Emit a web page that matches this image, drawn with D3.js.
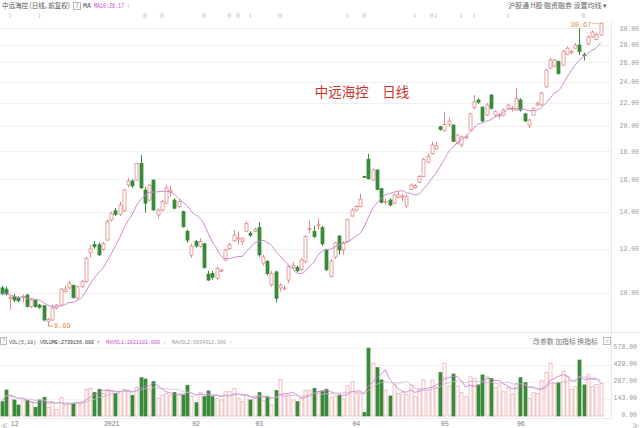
<!DOCTYPE html>
<html><head><meta charset="utf-8">
<script src="https://cdn.jsdelivr.net/npm/d3@7/dist/d3.min.js"></script>
<style>
html,body{margin:0;padding:0;background:#fff;}
svg{display:block;font-family:"Noto Sans CJK SC","Noto Sans",sans-serif;}
</style></head>
<body>
<svg id="c" width="640" height="428"></svg>
<script>
// ---------------- data ----------------
const open  = [10.20,10.15,9.75,9.85,9.78,9.82,9.90,9.44,9.70,9.50,9.47,8.88,8.93,9.38,9.50,10.05,10.20,10.30,9.78,10.25,
10.47,11.80,12.22,12.20,11.98,12.44,13.52,14.05,13.85,14.05,15.63,15.90,15.96,17.10,15.31,14.69,15.96,13.80,14.09,14.50,
15.20,14.69,14.30,14.00,12.90,11.69,12.37,12.12,12.25,10.80,10.83,10.62,10.95,11.45,12.00,12.40,12.50,12.37,12.90,12.80,
12.90,13.10,11.30,11.38,10.33,10.90,10.20,10.18,10.54,11.10,11.10,11.00,11.37,13.00,12.90,13.20,13.10,11.94,10.70,11.60,
12.65,11.94,12.37,13.75,14.09,14.30,16.20,17.40,15.96,16.64,15.40,14.55,14.69,14.50,14.85,14.90,14.33,15.35,15.45,15.80,
16.20,17.20,17.80,18.15,19.90,19.60,20.10,20.05,18.60,18.46,19.05,19.64,21.55,22.25,21.60,20.90,22.71,20.90,20.85,20.90,
21.50,21.45,21.34,22.25,21.00,20.05,20.90,21.80,21.80,23.50,25.40,25.60,26.10,25.72,26.90,27.15,27.60,27.95,26.85,28.10,
28.90,28.60,29.13];
const high  = [10.30,10.25,9.90,9.95,9.85,9.92,9.95,9.75,9.74,9.55,9.50,9.00,9.50,9.55,10.20,10.30,10.50,10.35,10.30,10.55,
11.60,12.20,12.40,12.30,12.35,13.55,14.00,14.20,14.60,15.40,16.10,16.00,17.15,17.70,15.50,15.70,16.00,14.20,14.70,15.65,
15.60,14.80,14.75,14.05,13.00,12.25,12.45,12.55,12.30,10.95,10.95,11.15,11.05,12.00,12.30,12.97,12.90,12.60,13.45,12.90,
13.10,13.40,11.70,11.45,10.95,10.95,10.40,10.30,11.20,11.35,11.20,11.55,12.70,13.50,13.20,13.60,13.20,12.00,11.50,12.35,
12.70,12.40,13.60,14.20,14.40,15.10,16.25,17.80,16.75,16.70,15.45,14.75,14.80,15.10,15.20,15.10,15.00,15.75,15.70,16.30,
17.50,17.80,18.70,18.70,20.00,21.20,20.70,20.10,19.35,19.20,19.30,21.10,22.71,22.40,21.65,22.00,22.80,21.30,21.10,21.50,
21.90,21.70,23.40,22.40,21.10,20.60,21.60,22.10,23.00,25.30,26.50,26.40,26.20,27.40,27.80,27.40,28.20,30.00,27.10,29.10,
29.70,29.40,30.67];
const low   = [9.90,9.88,9.31,9.62,9.60,9.60,9.40,9.38,9.40,9.36,8.88,8.69,8.90,9.33,9.45,10.00,10.15,9.75,9.72,10.20,
10.42,11.55,12.00,11.65,11.90,12.40,13.45,13.75,13.75,14.00,15.50,15.45,15.90,15.40,13.95,14.60,14.05,13.60,14.00,14.45,
14.90,14.15,14.20,13.10,12.30,11.55,12.05,12.05,11.05,10.50,10.55,10.55,10.90,11.40,11.95,12.35,12.20,12.20,12.85,12.60,
12.85,11.60,11.20,10.75,10.25,9.60,10.05,10.10,10.40,11.00,10.90,10.95,11.30,12.80,12.55,13.00,12.15,10.95,10.65,11.50,
11.70,11.70,12.30,13.70,14.00,14.25,16.10,16.00,15.90,15.30,14.50,14.40,14.30,14.45,14.80,14.60,14.20,15.30,15.40,15.75,
16.15,17.10,17.75,18.10,19.60,19.50,19.90,18.70,18.50,18.30,18.90,19.60,21.40,21.90,20.30,20.80,21.40,20.70,20.60,20.80,
21.40,21.20,21.30,21.20,20.30,19.80,20.85,21.70,21.75,23.40,25.30,25.50,24.70,25.60,26.80,26.90,27.50,26.80,26.20,27.90,
28.80,28.50,29.00];
const close = [9.95,9.95,9.80,9.70,9.67,9.85,9.45,9.70,9.44,9.41,8.93,8.95,9.38,9.50,10.15,10.15,10.40,9.80,10.25,10.47,
11.53,12.00,12.10,11.70,12.25,13.45,13.90,13.85,14.39,15.31,15.90,15.58,17.10,15.45,14.50,15.63,14.10,14.09,14.60,15.45,
15.30,14.20,14.60,13.15,12.44,12.14,12.14,12.37,11.10,10.54,10.66,11.07,10.98,11.94,12.22,12.70,12.55,12.50,13.33,12.70,
13.00,11.70,11.60,10.83,10.83,9.77,10.32,10.20,11.14,11.20,10.95,11.45,12.62,13.05,12.62,13.26,12.25,11.00,11.40,12.30,
11.94,12.30,13.55,14.09,14.30,14.75,16.15,16.05,16.64,15.35,14.55,14.60,14.39,15.00,15.00,14.93,14.90,15.63,15.60,16.20,
17.40,17.60,18.46,18.40,19.70,20.10,20.40,18.75,19.24,19.10,19.10,21.00,22.10,22.05,20.40,21.79,21.50,21.20,20.90,21.34,
21.79,21.50,22.40,21.34,20.40,20.47,21.50,21.95,22.90,25.20,26.26,26.26,24.85,27.20,27.60,27.20,27.95,27.20,26.80,28.90,
29.50,29.20,30.60];
// volume in 万手
const volume = [121,219,177,135,93,135,129,112,73,135,158,73,121,56,158,93,101,107,112,121,
225,233,197,225,191,225,214,191,205,225,219,174,242,323,312,219,290,149,177,191,
177,197,177,177,259,169,112,197,163,211,163,146,135,205,205,233,149,121,177,135,
163,197,129,163,93,214,309,163,177,135,121,149,214,219,233,205,205,225,158,169,
172,143,253,290,191,186,28,573,445,408,304,219,169,262,191,197,183,262,163,233,
304,214,304,242,366,445,253,354,253,197,163,332,318,262,346,332,315,242,262,205,
242,186,276,323,281,149,197,191,298,368,445,276,281,377,332,225,248,472,262,350,
248,267,273.9];
const priceTicks = [10,12,14,16,18,20,22,24,26,28,30];
const volTicks = [0,143,287,429,578];
const monthTickIdx = [3,26,46,61,84,105,123];
const monthTickLabels = ["12","2021","02","03","04","05","06"];
const eventIdx  = [2,9,34,38,48,54,56,59,66,82,86,98,102,103,109,112,120,138];
const eventKind = ["‡","‡","⊕","⊕","⊕","⊕","⊕","‡","⊕","‡","⊕","‡","⊕","‡","‡","‡","‡","⊕"];
const title = "中远海控　日线";
const headerMA10 = 28.17;
const headerVolume = 2739156.000, headerMavol1 = 2821102.000, headerMavol2 = 3034312.300;

// ---------------- setup ----------------
const svg = d3.select("#c");
const N = close.length;
const UP = "#e28a8a", UPV = "#eab0b0", DN = "#3a8a3a", MA = "#c98ac9";
const x = d3.scaleLinear().domain([0, N-1]).range([1.5, 600.5]);
const y = d3.scaleLog().domain([10, 30]).range([292.7, 28]);
const vy = d3.scaleLinear().domain([0, 578]).range([416, 347.5]);
const bw = 3;
const idx = d3.range(N);
const isUp = i => close[i] >= open[i];
const numFont = "'Liberation Mono','DejaVu Sans Mono',monospace";

function txt(xp, yp, s, opts) {
  const t = svg.append("text").attr("x", xp).attr("y", yp).text(s)
    .attr("fill", opts.fill || "#666").style("font-size", (opts.size || 7) + "px");
  if (opts.anchor) t.attr("text-anchor", opts.anchor);
  if (opts.len) t.attr("textLength", opts.len).attr("lengthAdjust", "spacingAndGlyphs");
  if (opts.font) t.style("font-family", opts.font);
  return t;
}

// grid
svg.append("g").selectAll("line").data(priceTicks).join("line")
  .attr("x1", 0).attr("x2", 612).attr("y1", d => Math.round(y(d))+0.5).attr("y2", d => Math.round(y(d))+0.5)
  .attr("stroke", "#f0f0f0");
svg.append("g").selectAll("line").data(volTicks.slice(1)).join("line")
  .attr("x1", 0).attr("x2", 612).attr("y1", d => Math.round(vy(d))+0.5).attr("y2", d => Math.round(vy(d))+0.5)
  .attr("stroke", "#f4f4f4");
svg.append("line").attr("x1",611.5).attr("x2",611.5).attr("y1",20).attr("y2",418).attr("stroke","#e8e8e8");
svg.append("line").attr("x1",0).attr("x2",640).attr("y1",332.5).attr("y2",332.5).attr("stroke","#e8e8e8");
svg.append("line").attr("x1",0).attr("x2",612).attr("y1",418.5).attr("y2",418.5).attr("stroke","#ececec");

// price axis
const ya = svg.append("g").attr("transform","translate(639,0)")
  .call(d3.axisRight(y).tickValues(priceTicks).tickFormat(d3.format(".2f")).tickSize(0));
ya.select(".domain").remove();
ya.selectAll("text").attr("text-anchor","end").attr("x",0).attr("fill","#999")
  .style("font-size","6.5px").style("font-family",numFont);

// volume axis
const va = svg.append("g").attr("transform","translate(637,0)")
  .call(d3.axisRight(vy).tickValues(volTicks).tickFormat(d3.format(".2f")).tickSize(0));
va.select(".domain").remove();
va.selectAll("text").attr("text-anchor","end").attr("x",0).attr("dy","0.1em").attr("fill","#999")
  .style("font-size","6.5px").style("font-family",numFont);

// month axis
const xa = svg.append("g").attr("transform","translate(0,419)")
  .call(d3.axisBottom(x).tickValues(monthTickIdx).tickFormat((d,i)=>monthTickLabels[i]).tickSize(0));
xa.select(".domain").remove();
xa.selectAll("text").attr("fill","#777").attr("dy","0.6em")
  .style("font-size","6.5px").style("font-family",numFont);
txt(1, 427.5, "≪", {fill:"#999", size:7});
txt(639, 427.5, "≫", {fill:"#999", size:7, anchor:"end"});

// candles
const cg = svg.append("g");
cg.selectAll("line.w").data(idx).join("line").attr("class","w")
  .attr("x1", i => Math.round(x(i))+0.5).attr("x2", i => Math.round(x(i))+0.5)
  .attr("y1", i => y(high[i])).attr("y2", i => y(low[i]))
  .attr("stroke", i => isUp(i) ? UP : DN).attr("stroke-width", 1);
cg.selectAll("rect.b").data(idx).join("rect").attr("class","b")
  .attr("x", i => Math.round(x(i)) - 1)
  .attr("width", bw)
  .attr("y", i => y(Math.max(open[i], close[i])))
  .attr("height", i => Math.max(1, y(Math.min(open[i], close[i])) - y(Math.max(open[i], close[i]))))
  .attr("fill", i => isUp(i) ? "#fff" : DN)
  .attr("stroke", i => isUp(i) ? UP : DN).attr("stroke-width", 0.8);

// MA10
function rolling(arr, n){ return arr.map((_, i) => d3.mean(arr.slice(Math.max(0, i-n+1), i+1))); }
const ma10 = rolling(close, 10);
svg.append("path").datum(idx)
  .attr("d", d3.line().x(i => x(i)).y(i => y(ma10[i])).curve(d3.curveMonotoneX))
  .attr("fill","none").attr("stroke", MA).attr("stroke-width", 1);

// high / low labels
const iMax = d3.maxIndex(high), iMin = d3.minIndex(low);
svg.append("path").attr("d", `M${x(iMax)-8},${y(high[iMax])+1}H${x(iMax)}`)
  .attr("stroke","#e6a070").attr("stroke-dasharray","2,1").attr("fill","none");
txt(x(iMax)-9, y(high[iMax])+4, d3.format(".2f")(high[iMax]), {fill:"#e08a40", size:7, anchor:"end", font:numFont});
svg.append("path").attr("d", `M${x(iMin)},${y(low[iMin])-0.5}H${x(iMin)+5}`)
  .attr("stroke","#e6a070").attr("fill","none");
txt(x(iMin)+6, y(low[iMin])+1, d3.format(".2f")(low[iMin]), {fill:"#e08a40", size:7, font:numFont});

// volume bars
const vg = svg.append("g");
vg.selectAll("rect").data(idx).join("rect")
  .attr("x", i => Math.round(x(i)) - 1).attr("width", bw)
  .attr("y", i => vy(volume[i])).attr("height", i => vy(0) - vy(volume[i]))
  .attr("fill", i => isUp(i) ? "#fff" : DN)
  .attr("stroke", i => isUp(i) ? UPV : DN).attr("stroke-width", 0.8);
const mv5 = rolling(volume, 5), mv10 = rolling(volume, 10);
svg.append("path").datum(idx).attr("d", d3.line().x(i => x(i)).y(i => vy(mv5[i])))
  .attr("fill","none").attr("stroke","#c873c8").attr("stroke-width",0.8);
svg.append("path").datum(idx).attr("d", d3.line().x(i => x(i)).y(i => vy(mv10[i])))
  .attr("fill","none").attr("stroke","#cbb5d2").attr("stroke-width",0.8);

// event markers
svg.append("g").selectAll("text").data(eventIdx).join("text")
  .attr("x", i => x(i)).attr("y", 17).attr("text-anchor","middle")
  .attr("fill","#aaa").style("font-size","5px").text((d,k)=>eventKind[k]);

// header texts
txt(2, 8, "中远海控 (日线, 前复权)", {fill:"#555", size:7, len:68});
svg.append("rect").attr("x",73.5).attr("y",2.5).attr("width",7).attr("height",7).attr("fill","none").attr("stroke","#bbb");
txt(77, 8, "?", {fill:"#777", size:6, anchor:"middle"});
txt(83, 8, "MA", {fill:"#555", size:6.5, len:8, font:numFont});
txt(94, 8, "MA10:" + d3.format(".2f")(headerMA10) + " ↑", {fill:"#d048d0", size:6.5, len:36, font:numFont});
txt(508, 8, "沪股通  H股  融资融券  设置均线 ▾", {fill:"#666", size:7, len:99});

svg.append("text").attr("x",362).attr("y",97).attr("text-anchor","middle").attr("fill","#c8342e")
  .style("font-size","13.5px").style("font-family","'Noto Sans CJK SC'").text(title);

// volume header
svg.append("rect").attr("x",0.5).attr("y",337.5).attr("width",6).attr("height",7).attr("fill","none").attr("stroke","#bbb");
txt(3.5, 343, "?", {fill:"#777", size:5.5, anchor:"middle"});
txt(9, 343.5, "VOL(5,10)", {fill:"#555", size:5, font:numFont});
txt(40, 343.5, "VOLUME:" + d3.format(".3f")(headerVolume) + " ↑", {fill:"#333", size:5, font:numFont});
txt(106, 343.5, "MAVOL1:" + d3.format(".3f")(headerMavol1) + " ↓", {fill:"#d048d0", size:5, font:numFont});
txt(172, 343.5, "MAVOL2:" + d3.format(".3f")(headerMavol2) + " ↑", {fill:"#999", size:5, font:numFont});
txt(533, 343.5, "改参数  加指标  换指标", {fill:"#777", size:7, len:65});
svg.append("rect").attr("x",603.5).attr("y",337.5).attr("width",7).attr("height",7).attr("fill","none").attr("stroke","#bbb");
txt(607, 343, "×", {fill:"#999", size:6, anchor:"middle"});
</script>
</body></html>
